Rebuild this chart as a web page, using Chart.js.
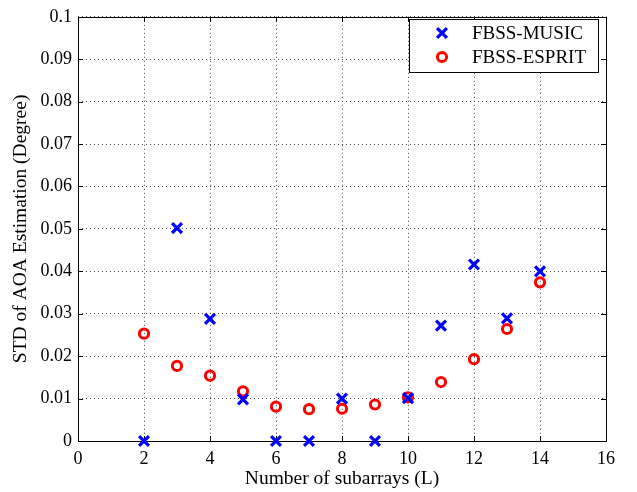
<!DOCTYPE html>
<html>
<head>
<meta charset="utf-8">
<script src="https://cdn.jsdelivr.net/npm/chart.js@4.4.1/dist/chart.umd.min.js"></script>
<style>
  html, body { margin: 0; padding: 0; background: #fff; }
  #wrap { width: 637px; height: 492px; }
</style>
</head>
<body>
<div id="wrap"><canvas id="std-chart" width="637" height="492"></canvas></div>
<script>
// data
const subarrays = [2, 3, 4, 5, 6, 7, 8, 9, 10, 11, 12, 13, 14];
const musicStd = [0, 0.0502, 0.0288, 0.0098, 0, 0, 0.0100, 0, 0.0101, 0.0272, 0.0416, 0.0289, 0.0400];
const espritStd = [0.0253, 0.0177, 0.0154, 0.0117, 0.0081, 0.0075, 0.0076, 0.0086, 0.0103, 0.0139, 0.0193, 0.0264, 0.0374];
const xTicks = [0, 2, 4, 6, 8, 10, 12, 14, 16];
const yTicks = [0, 0.01, 0.02, 0.03, 0.04, 0.05, 0.06, 0.07, 0.08, 0.09, 0.1];
const seriesNames = ['FBSS-MUSIC', 'FBSS-ESPRIT'];

const FONT = 'Liberation Serif';

const toPoints = (ys) => subarrays.map((x, i) => ({ x: x, y: ys[i] }));

// inward ticks on all four sides + box, like matlab
const axesBox = {
  id: 'axesBox',
  beforeDatasetsDraw(chart) {
    const { ctx, chartArea: a, scales } = chart;
    const len = 5;
    ctx.save();
    ctx.strokeStyle = '#000';
    ctx.lineWidth = 1;
    ctx.beginPath();
    xTicks.forEach(t => {
      const px = Math.round(scales.x.getPixelForValue(t)) + 0.5;
      ctx.moveTo(px, a.bottom); ctx.lineTo(px, a.bottom - len);
      ctx.moveTo(px, a.top); ctx.lineTo(px, a.top + len);
    });
    yTicks.forEach(t => {
      const py = Math.round(scales.y.getPixelForValue(t)) + 0.5;
      ctx.moveTo(a.left, py); ctx.lineTo(a.left + len, py);
      ctx.moveTo(a.right, py); ctx.lineTo(a.right - len, py);
    });
    ctx.stroke();
    ctx.strokeRect(Math.round(a.left) + 0.5, Math.round(a.top) + 0.5,
      Math.round(a.right - a.left), Math.round(a.bottom - a.top));
    ctx.restore();
  },
  afterDraw(chart) {
    // legend box in the top right corner
    const { ctx } = chart;
    const bx = 409, by = 19, bw = 189, bh = 53;
    ctx.save();
    ctx.fillStyle = '#fff';
    ctx.fillRect(bx, by, bw, bh);
    ctx.strokeStyle = '#000';
    ctx.lineWidth = 1;
    ctx.strokeRect(bx + 0.5, by + 0.5, bw, bh);
    ctx.font = '19px "' + FONT + '"';
    ctx.textBaseline = 'middle';
    ctx.fillStyle = '#000';
    chart.data.datasets.forEach((ds, i) => {
      const cy = by + 14 + i * 24;
      ctx.strokeStyle = ds.borderColor;
      ctx.fillStyle = 'rgba(0,0,0,0)';
      ctx.lineWidth = ds.borderWidth;
      Chart.helpers.drawPoint(ctx, {
        pointStyle: ds.pointStyle, radius: ds.pointRadius, borderWidth: ds.borderWidth, rotation: 0
      }, 442, cy);
      ctx.fillStyle = '#000';
      ctx.fillText(ds.label, 472, cy + 1);
    });
    ctx.restore();
  }
};

const ctx = document.getElementById('std-chart').getContext('2d');

new Chart(ctx, {
  type: 'scatter',
  data: {
    datasets: [
      {
        label: seriesNames[0],
        data: toPoints(musicStd),
        pointStyle: 'crossRot',
        pointRadius: 7,
        pointHoverRadius: 7,
        borderColor: '#0000ff',
        backgroundColor: '#0000ff',
        borderWidth: 3.2
      },
      {
        label: seriesNames[1],
        data: toPoints(espritStd),
        pointStyle: 'circle',
        pointRadius: 4.6,
        pointHoverRadius: 4.6,
        borderColor: '#ff0000',
        backgroundColor: 'rgba(0,0,0,0)',
        borderWidth: 3
      }
    ]
  },
  options: {
    responsive: false,
    animation: false,
    clip: false,
    layout: { padding: { top: 10, right: 31, left: 0, bottom: 0 } },
    plugins: {
      legend: { display: false },
      tooltip: { enabled: false }
    },
    scales: {
      x: {
        type: 'linear',
        min: 0,
        max: 16,
        afterFit: (s) => { s.height = 51; },
        afterBuildTicks: (s) => { s.ticks = xTicks.map(v => ({ value: v })); },
        ticks: { color: '#000', font: { family: FONT, size: 18 }, padding: 7, maxRotation: 0 },
        grid: { color: '#444', drawTicks: false, lineWidth: 1 },
        border: { display: false, dash: [1, 3] },
        title: {
          display: true,
          text: 'Number of subarrays (L)',
          color: '#000',
          font: { family: FONT, size: 19.5 },
          padding: { top: 0, bottom: 1 }
        }
      },
      y: {
        type: 'linear',
        min: 0,
        max: 0.1,
        afterFit: (s) => { s.width = 78; },
        afterBuildTicks: (s) => { s.ticks = yTicks.map(v => ({ value: v })); },
        ticks: {
          color: '#000',
          font: { family: FONT, size: 18 },
          padding: 6,
          callback: (v) => String(parseFloat(Number(v).toFixed(3)))
        },
        grid: { color: '#444', drawTicks: false, lineWidth: 1 },
        border: { display: false, dash: [1, 3] },
        title: {
          display: true,
          text: 'STD of AOA Estimation (Degree)',
          color: '#000',
          font: { family: FONT, size: 19.5 },
          padding: { top: 9, bottom: 0 }
        }
      }
    }
  },
  plugins: [axesBox]
});
</script>
</body>
</html>
